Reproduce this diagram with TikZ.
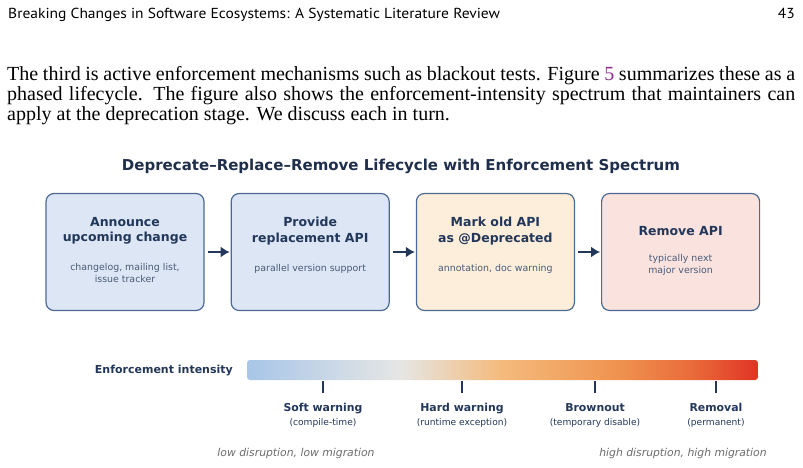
\documentclass[tikz,border=0pt]{standalone}
\usepackage{fontspec}
\setmainfont{Liberation Serif}
\newfontfamily\headfont[FakeStretch=1.07]{PT Sans}
\newfontfamily\figfont[Ligatures=TeX]{DejaVu Sans}
\usepackage{xcolor}
\usetikzlibrary{arrows.meta,positioning}
\definecolor{lcnavy}{HTML}{22375A}
\definecolor{lcink}{HTML}{1F2E4B}
\definecolor{lcedge}{HTML}{4C6A92}
\definecolor{lcnote}{HTML}{4A5B78}
\definecolor{lcgrey}{HTML}{6B6B6B}
\definecolor{lcblue}{HTML}{DCE6F4}
\definecolor{lcsand}{HTML}{FCEEDA}
\definecolor{lcrose}{HTML}{FAE3DF}
\definecolor{lclink}{HTML}{8A2B8C}
\definecolor{barblue}{HTML}{A8C6E8}
\definecolor{bargrey}{HTML}{E6E6E4}
\definecolor{barsand}{HTML}{F4BA7C}
\definecolor{barorange}{HTML}{EF9450}
\definecolor{barember}{HTML}{EA6B3A}
\definecolor{barred}{HTML}{E03424}
% tikz fits the middle half (25bp--75bp) of a shading to the path
\pgfdeclarehorizontalshading{intensity}{100bp}{color(0bp)=(barblue); color(25bp)=(barblue);
  color(40bp)=(bargrey); color(50bp)=(barsand); color(61bp)=(barorange);
  color(68.5bp)=(barember); color(75bp)=(barred); color(100bp)=(barred)}

\begin{document}
\begin{tikzpicture}[
  x=1pt,y=-1pt,
  phase/.style={draw=lcedge,line width=1.2pt,rounded corners=8pt,
                minimum width=158pt,minimum height=117pt,inner sep=0pt},
  phasetitle/.style={font=\figfont\bfseries\fontsize{12.5}{15.4}\selectfont,text=lcnavy,
                     align=center,inner sep=0pt},
  phasenote/.style={font=\figfont\fontsize{9.4}{12.6}\selectfont,text=lcnote,
                    align=center,inner sep=0pt},
  flow/.style={-{Latex[length=9pt,width=11pt]},line width=1.6pt,draw=lcnavy,
               shorten <=3pt,shorten >=1pt},
  tickmark/.style={line width=1.6pt,draw=lcnavy},
  ticklabel/.style={font=\figfont\fontsize{10.9}{13.5}\selectfont,text=lcnavy,
                    align=center,inner sep=0pt,anchor=base},
  endnote/.style={font=\figfont\itshape\fontsize{10.8}{13}\selectfont,text=lcgrey,inner sep=0pt},
]
\useasboundingbox (0,0) rectangle (803,467);

% running head and the paragraph above the figure
\node[font=\headfont\fontsize{14.5}{17}\selectfont,anchor=base west,inner sep=0pt] (runhead)
  at (8,18) {Breaking Changes in Software Ecosystems: A Systematic Literature Review};
\node[font=\headfont\fontsize{14.5}{17}\selectfont,anchor=base east,inner sep=0pt] (pageno)
  at (795,18) {43};
\node[font=\fontsize{20}{20}\selectfont,text width=788pt,align=justify,
      anchor=base west,inner sep=0pt] (para) at (7,80)
  {The third is active enforcement mechanisms such as blackout tests. Figure
   \textcolor{lclink}{5} summarizes these as a\linebreak phased lifecycle. The figure
   also shows the enforcement-intensity spectrum that maintainers can\linebreak apply
   at the deprecation stage. We discuss each in turn.};

% lifecycle title
\node[font=\figfont\bfseries\fontsize{15}{18}\selectfont,text=lcink,inner sep=0pt]
  (heading) at (401,166) {Deprecate--Replace--Remove Lifecycle with Enforcement Spectrum};

% the four phases
\node[phase,fill=lcblue] (announce) at (125,252) {};
\node[phase,fill=lcblue,right=26pt of announce] (provide) {};
\node[phase,fill=lcsand,right=26pt of provide] (mark) {};
\node[phase,fill=lcrose,right=26pt of mark] (remove) {};

\node[phasetitle] (announcetitle) at ([yshift=21pt]announce.center) {Announce\\upcoming change};
\node[phasenote] (announcenote) at ([yshift=-21pt]announce.center) {changelog, mailing list,\\issue tracker};
\node[phasetitle] (providetitle) at ([yshift=21pt]provide.center) {Provide\\replacement API};
\node[phasenote] (providenote) at ([yshift=-17pt]provide.center) {parallel version support};
\node[phasetitle] (marktitle) at ([yshift=21pt]mark.center) {Mark old API\\as @Deprecated};
\node[phasenote] (marknote) at ([yshift=-17pt]mark.center) {annotation, doc warning};
\node[phasetitle] (removetitle) at ([yshift=21pt]remove.center) {Remove API};
\node[phasenote] (removenote) at ([yshift=-13pt]remove.center) {typically next\\major version};

\draw[flow] (announce) -- (provide);
\draw[flow] (provide) -- (mark);
\draw[flow] (mark) -- (remove);

% enforcement spectrum
\node[font=\figfont\bfseries\fontsize{11}{13}\selectfont,text=lcnavy,anchor=east,
      inner sep=0pt] (intensity) at (233,370) {Enforcement intensity};
\node[shading=intensity,rounded corners=3pt,minimum width=511pt,minimum height=20pt,
      inner sep=0pt] (bar) at (502.5,370) {};

% labels sit on the baseline of their second line
\node[ticklabel] (soft) at (323,425) {\textbf{Soft warning}\\{\fontsize{9.1}{13.5}\selectfont(compile-time)}};
\node[ticklabel] (hard) at (462,425) {\textbf{Hard warning}\\{\fontsize{9.1}{13.5}\selectfont(runtime exception)}};
\node[ticklabel] (brownout) at (595,425) {\textbf{Brownout}\\{\fontsize{9.1}{13.5}\selectfont(temporary disable)}};
\node[ticklabel] (removal) at (716,425) {\textbf{Removal}\\{\fontsize{9.1}{13.5}\selectfont(permanent)}};

\draw[tickmark] (323,381) -- (323,393);
\draw[tickmark] (462,381) -- (462,393);
\draw[tickmark] (595,381) -- (595,393);
\draw[tickmark] (716,381) -- (716,393);

\node[endnote] (low) at (296,454) {low disruption, low migration};
\node[endnote] (high) at (683,454) {high disruption, high migration};

\end{tikzpicture}
\end{document}
